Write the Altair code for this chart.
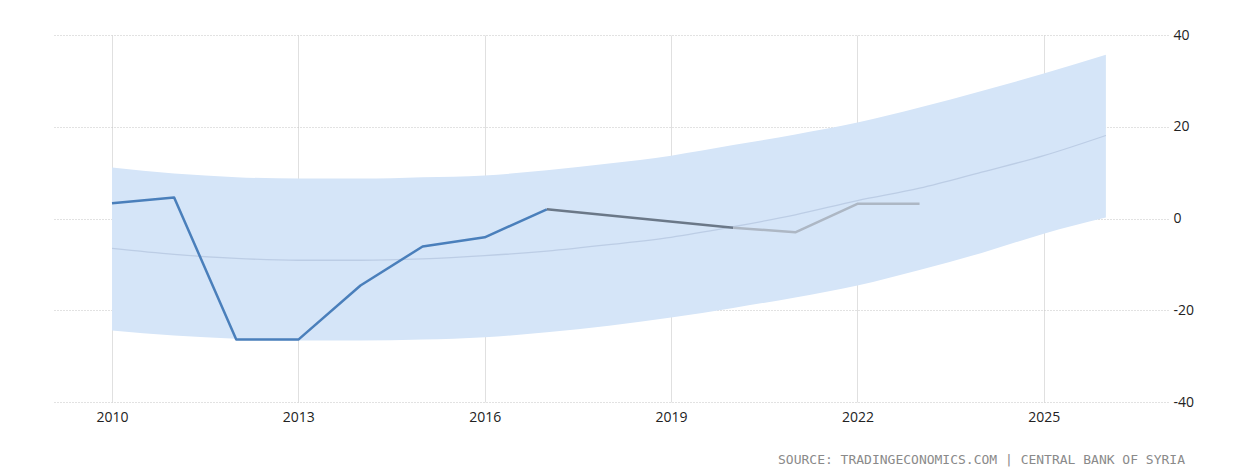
import altair as alt
import pandas as pd

# ---- data ----
years = [2010, 2011, 2012, 2013, 2014, 2015, 2016, 2017, 2020, 2021, 2022, 2023]
values = [3.3, 4.6, -26.4, -26.4, -14.6, -6.1, -4.1, 2.0, -2.0, -3.0, 3.2, 3.2]

band_years = list(range(2010, 2027))
band_upper = [11.1, 9.8, 9.0, 8.7, 8.7, 9.0, 9.4, 10.5, 12.0, 13.7, 16.0, 18.3, 20.9, 24.2, 27.8, 31.6, 35.7]
band_lower = [-24.4, -25.5, -26.2, -26.6, -26.6, -26.4, -25.9, -24.8, -23.4, -21.6, -19.5, -17.2, -14.6, -11.2, -7.5, -3.3, 0.2]
trend = [-6.5, -7.8, -8.7, -9.1, -9.1, -8.8, -8.1, -7.1, -5.7, -4.1, -1.8, 0.8, 3.9, 6.6, 10.1, 13.7, 18.1]

x_ticks = [2010, 2013, 2016, 2019, 2022, 2025]
y_ticks = [-40, -20, 0, 20, 40]

source_text = "SOURCE: TRADINGECONOMICS.COM | CENTRAL BANK OF SYRIA"

# segments: (start year, end year, colour)
segments = [(2010, 2017, "#4a7fbb"), (2017, 2020, "#6b7888"), (2020, 2023, "#adb7c4")]

rows = []
for i, (a, b, c) in enumerate(segments):
    for y, v in zip(years, values):
        if a <= y <= b:
            rows.append({"year": y, "value": v, "seg": f"s{i}", "color": c})
line_df = pd.DataFrame(rows)
band_df = pd.DataFrame({"year": band_years, "upper": band_upper, "lower": band_lower, "trend": trend})

xscale = alt.Scale(domain=[2009.05, 2027.0], nice=False, zero=False)
yscale = alt.Scale(domain=[-40, 40], nice=False)

base_band = alt.Chart(band_df)

band = base_band.mark_area(color="#d5e5f8", opacity=1, interpolate="monotone").encode(
    x=alt.X("year:Q", scale=xscale,
            axis=alt.Axis(values=x_ticks, labelExpr="toString(datum.value)", title=None, grid=True,
                          gridColor="#e0e0e0", gridWidth=1, domain=False, ticks=False, labelFontSize=14,
                          labelColor="#222222", labelPadding=8, labelFont="Open Sans")),
    y=alt.Y("upper:Q", scale=yscale,
            axis=alt.Axis(values=y_ticks, labelExpr="toString(datum.value)", orient="right", title=None,
                          grid=True, gridColor="#c4c4c4", gridDash=[1, 2], gridWidth=1, domain=False,
                          ticks=False, labelFontSize=14, labelColor="#222222", labelPadding=5,
                          labelFont="Open Sans")),
    y2="lower:Q",
)

trend_line = base_band.mark_line(color="#bccde5", strokeWidth=1.3, interpolate="monotone").encode(
    x=alt.X("year:Q", scale=xscale),
    y=alt.Y("trend:Q", scale=yscale),
)

lines = alt.Chart(line_df).mark_line(strokeWidth=2.5, strokeJoin="round").encode(
    x=alt.X("year:Q", scale=xscale),
    y=alt.Y("value:Q", scale=yscale),
    detail="seg:N",
    color=alt.Color("color:N", scale=None),
    order="year:Q",
)

source = alt.Chart(pd.DataFrame({"t": [source_text]})).mark_text(
    align="right", baseline="middle", fontSize=13, color="#8a8a8a", font="DejaVu Sans Mono"
).encode(x=alt.value(1132), y=alt.value(425), text="t:N")

chart = alt.layer(band, trend_line, lines, source).properties(
    width=1115, height=367,
    autosize=alt.AutoSizeParams(type="none"),
    padding={"left": 53, "top": 35, "right": 90, "bottom": 71},
    background="white",
).configure_view(stroke=None, strokeWidth=0)

chart.save("out.html", embed_options={"renderer": "svg", "actions": False})
